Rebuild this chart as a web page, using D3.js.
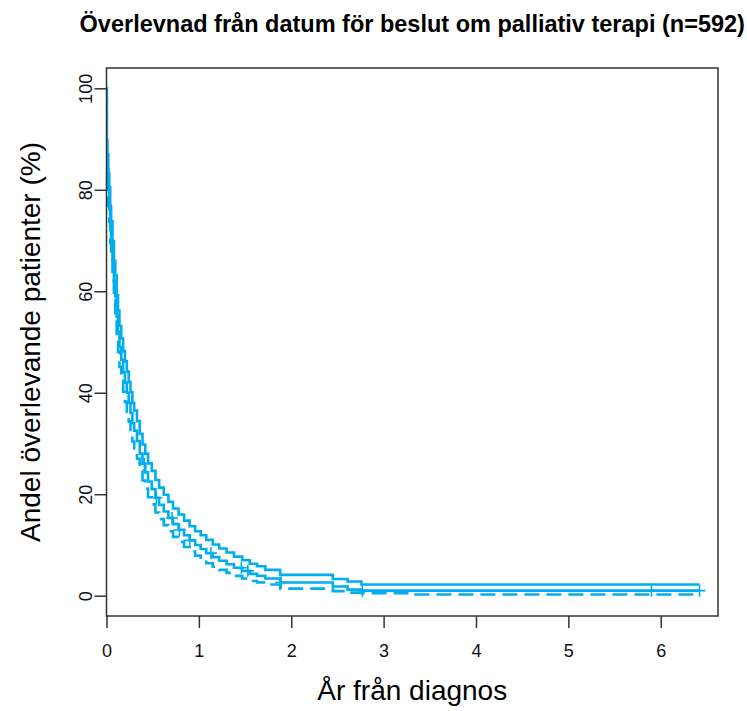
<!DOCTYPE html>
<html>
<head>
<meta charset="utf-8">
<script src="https://cdn.jsdelivr.net/npm/d3@7"></script>
<style>
  body { margin: 0; background: #fff; }
  svg text { font-family: "Liberation Sans", Arial, sans-serif; }
</style>
</head>
<body>
<svg id="chart"></svg>
<script>
// Kaplan-Meier values (years, % surviving)
const times    = [0, 0.003, 0.01, 0.02, 0.03, 0.04, 0.05, 0.065, 0.08, 0.095, 0.11, 0.125, 0.14, 0.16, 0.18, 0.2, 0.22, 0.24, 0.26, 0.28, 0.30, 0.33, 0.36, 0.39, 0.42, 0.45, 0.49, 0.53, 0.57, 0.62, 0.67, 0.72, 0.78, 0.84, 0.9, 0.96, 1.02, 1.08, 1.15, 1.22, 1.3, 1.38, 1.47, 1.55, 1.63, 1.72, 1.88, 2.45, 2.61, 2.76, 3.3, 6.42];
const survival = [100, 87, 84, 80, 77, 73, 70, 66, 62, 59, 55, 52, 49, 46.5, 44, 42, 40, 38, 36, 34, 32.5, 30.5, 28, 26, 24.3, 22.5, 21, 19.3, 17.9, 16.6, 15.3, 14.1, 13, 11.9, 10.9, 10, 9.2, 8.4, 7.6, 6.9, 6.2, 5.5, 4.9, 4.3, 3.9, 3.4, 2.6, 1.8, 1.2, 1.0, 1.0, 1.0];
const upperCI  = [100, 89.7, 87.0, 83.3, 80.5, 76.7, 73.8, 69.9, 66.0, 63.1, 59.2, 56.2, 53.2, 50.7, 48.2, 46.2, 44.2, 42.1, 40.1, 38.0, 36.5, 34.4, 31.9, 29.8, 28.0, 26.1, 24.6, 22.8, 21.3, 19.9, 18.5, 17.2, 16.0, 14.8, 13.7, 12.7, 11.9, 11.0, 10.1, 9.3, 8.5, 7.7, 7.0, 6.3, 5.8, 5.1, 4.1, 3.3, 2.8, 2.2, 2.2, 2.2];
const lowerCI  = [100, 84.3, 81.1, 76.8, 73.7, 69.5, 66.4, 62.3, 58.2, 55.2, 51.1, 48.1, 45.1, 42.6, 40.2, 38.2, 36.2, 34.3, 32.3, 30.4, 29.0, 27.0, 24.6, 22.7, 21.1, 19.4, 18.0, 16.4, 15.1, 13.9, 12.7, 11.6, 10.6, 9.6, 8.7, 7.9, 7.1, 6.4, 5.7, 5.1, 4.5, 3.9, 3.4, 2.9, 2.6, 2.2, 1.4, 0.9, 0.6, 0.5, 0.25, 0.25];
const censorTimes = [0.41, 0.54, 0.71, 0.79, 0.9, 1.13, 1.46, 1.53, 1.89, 2.77, 5.9, 6.42];

const xTicks = [0, 1, 2, 3, 4, 5, 6];
const yTicks = [0, 20, 40, 60, 80, 100];

const width = 747, height = 711;
const margin = {top: 68, right: 29, bottom: 95, left: 106.5};
const lineColor = '#00aeef';

const svg = d3.select('#chart')
    .attr('width', width)
    .attr('height', height);

const x = d3.scaleLinear().domain([0, 6.62]).range([margin.left, width - margin.right]);
const y = d3.scaleLinear().domain([-4, 104]).range([height - margin.bottom, margin.top]);

svg.append('clipPath').attr('id', 'plotClip')
    .append('rect')
    .attr('x', x(0)).attr('y', y(104))
    .attr('width', x(6.62) - x(0)).attr('height', y(-4) - y(104));

const plot = svg.append('g').attr('clip-path', 'url(#plotClip)');

const step = d3.line()
    .x(d => x(d[0]))
    .y(d => y(d[1]))
    .curve(d3.curveStepAfter);

// estimate and confidence band
plot.append('path')
    .attr('d', step(times.map((t, i) => [t, survival[i]])))
    .attr('fill', 'none').attr('stroke', lineColor).attr('stroke-width', 2.6);

plot.append('path')
    .attr('d', step(times.map((t, i) => [t, upperCI[i]])))
    .attr('fill', 'none').attr('stroke', lineColor).attr('stroke-width', 2.6);

plot.append('path')
    .attr('d', step(times.map((t, i) => [t, lowerCI[i]])))
    .attr('fill', 'none').attr('stroke', lineColor).attr('stroke-width', 2.6)
    .attr('stroke-dasharray', '15,7');

// censoring marks on the estimate
const survAt = t => survival[d3.bisectRight(times, t) - 1];
plot.selectAll('path.censor')
    .data(censorTimes)
    .enter()
    .append('path')
    .attr('class', 'censor')
    .attr('d', t => {
        const cx = x(t), cy = y(survAt(t)), r = 6;
        return `M${cx - r},${cy}H${cx + r}M${cx},${cy - r}V${cy + r}`;
    })
    .attr('stroke', lineColor).attr('stroke-width', 1.6);

// box
svg.append('rect')
    .attr('x', x(0)).attr('y', y(104))
    .attr('width', x(6.62) - x(0)).attr('height', y(-4) - y(104))
    .attr('fill', 'none').attr('stroke', '#333').attr('stroke-width', 1.5);

// x axis
const xAxis = svg.append('g')
    .attr('transform', `translate(0, ${y(-4)})`)
    .call(d3.axisBottom(x).tickValues(xTicks).tickFormat(d3.format('d')).tickSize(12).tickPadding(16));
xAxis.select('.domain').remove();
xAxis.selectAll('line').attr('stroke', '#333').attr('stroke-width', 1.5);
xAxis.selectAll('text').attr('font-size', 18).attr('fill', '#111')
    .style('font-family', '"Liberation Sans", Arial, sans-serif');

// y axis, labels parallel to the axis
const yAxis = svg.append('g')
    .attr('transform', `translate(${x(0)}, 0)`)
    .call(d3.axisLeft(y).tickValues(yTicks).tickFormat(d3.format('d')).tickSize(12));
yAxis.select('.domain').remove();
yAxis.selectAll('line').attr('stroke', '#333').attr('stroke-width', 1.5);
yAxis.selectAll('text')
    .attr('x', null).attr('dy', null)
    .attr('text-anchor', 'middle')
    .attr('transform', 'translate(-15, 0) rotate(-90)')
    .attr('font-size', 18).attr('fill', '#111')
    .style('font-family', '"Liberation Sans", Arial, sans-serif');

// titles
svg.append('text')
    .attr('x', (x(0) + x(6.62)) / 2).attr('y', 32)
    .attr('text-anchor', 'middle')
    .attr('font-size', 23.5).attr('font-weight', 'bold')
    .text('Överlevnad från datum för beslut om palliativ terapi (n=592)');

svg.append('text')
    .attr('x', (x(0) + x(6.62)) / 2).attr('y', 700)
    .attr('text-anchor', 'middle')
    .attr('font-size', 28)
    .text('År från diagnos');

svg.append('text')
    .attr('transform', `translate(40, ${(y(104) + y(-4)) / 2}) rotate(-90)`)
    .attr('text-anchor', 'middle')
    .attr('font-size', 28)
    .text('Andel överlevande patienter (%)');
</script>
</body>
</html>
